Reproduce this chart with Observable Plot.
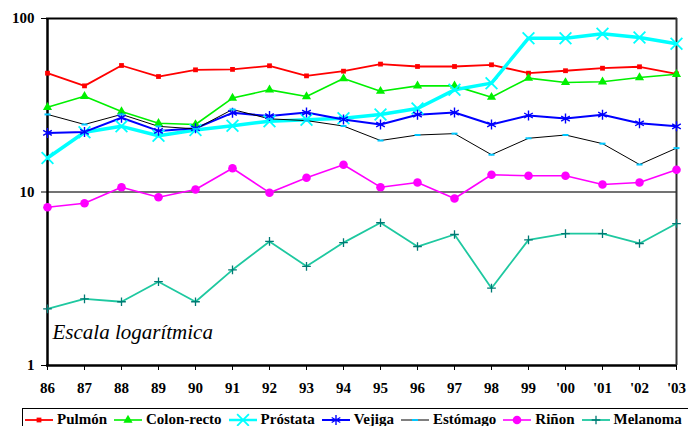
<!DOCTYPE html>
<html>
<head>
<meta charset="utf-8">
<script src="https://cdn.jsdelivr.net/npm/d3@7"></script>
<script src="https://cdn.jsdelivr.net/npm/@observablehq/plot@0.6"></script>
<style>
  html, body { margin: 0; padding: 0; background: #fff; }
  body { width: 688px; height: 426px; position: relative; overflow: hidden; }
  #chart { position: absolute; left: 0; top: 0; }
  #legend {
    position: absolute; left: 22px; top: 408px; width: 680px; height: 30px;
    border: 1.5px solid #000; box-sizing: border-box;
    display: flex; align-items: flex-start; padding: 2px 0 0 2px;
    font-family: 'Liberation Serif', 'Tinos', 'Times New Roman', 'DejaVu Serif', serif; font-weight: bold; font-size: 15px;
    line-height: 17px; white-space: nowrap;
  }
  .item { display: flex; align-items: center; margin-right: 7px; }
  .item svg { margin-right: 4px; }
  #chart svg, #chart svg text { font-family: 'Liberation Serif', 'Tinos', 'Times New Roman', 'DejaVu Serif', serif; }
</style>
</head>
<body>
<div id="chart"></div>
<div id="legend"></div>
<script>
// ---- data ----
const years = ["86","87","88","89","90","91","92","93","94","95","96","97","98","99","'00","'01","'02","'03"];
const seriesNames = ["Pulmón","Colon-recto","Próstata","Vejiga","Estómago","Riñon","Melanoma"];
const pulmon    = [48.4,40.9,53.6,46.3,50.6,50.9,53.4,46.7,49.7,54.6,52.9,52.9,54.1,48.4,50.0,51.7,52.7,48.0];
const colonRecto= [30.8,35.6,29.1,24.9,24.5,34.8,38.8,35.5,45.1,38.1,40.9,40.9,35.2,45.3,42.8,43.2,45.7,47.7];
const prostata  = [15.7,22.1,23.9,21.1,22.8,24.1,25.6,26.1,26.6,28.0,30.3,38.8,42.4,77.0,77.0,81.6,77.7,71.5];
const vejiga    = [21.9,22.2,26.8,22.5,23.3,28.6,27.4,28.7,26.2,24.5,27.9,28.7,24.5,27.6,26.5,27.9,24.9,23.9];
const estomago  = [28.0,24.5,28.0,23.9,23.1,29.9,26.4,25.8,24.0,19.8,21.3,21.7,16.4,20.4,21.3,19.0,14.4,17.9];
const rinon     = [8.17,8.62,10.66,9.33,10.34,13.7,9.91,12.07,14.35,10.66,11.35,9.17,12.57,12.4,12.4,11.05,11.35,13.43];
const melanoma  = [2.12,2.42,2.33,3.04,2.33,3.56,5.19,3.73,5.11,6.65,4.85,5.69,2.79,5.30,5.76,5.76,5.05,6.58];
const yTicks = [1, 10, 100];
const note = "Escala logarítmica";

const seriesValues = [pulmon, colonRecto, prostata, vejiga, estomago, rinon, melanoma];

// ---- styles ----
const serif = "'Liberation Serif', 'Tinos', 'Times New Roman', 'DejaVu Serif', serif";
const dashSymbol = {draw(ctx) { ctx.moveTo(-3,-1); ctx.lineTo(3,-1); ctx.lineTo(3,1); ctx.lineTo(-3,1); ctx.closePath(); }};
const styles = [
  {line: "#FF0000", lw: 1.8, symbol: "square",   r: 2.7, fill: "#FF0000", stroke: "none", sw: 0},
  {line: "#00F000", lw: 1.6, symbol: "triangle", r: 3.4, fill: "#00F000", stroke: "none", sw: 0},
  {line: "#00FFFF", lw: 3.5, symbol: "times",    r: 5.4, fill: "none", stroke: "#00FFFF", sw: 1.8},
  {line: "#0000FF", lw: 2,   symbol: "asterisk", r: 4.7, fill: "none", stroke: "#0000FF", sw: 1.4},
  {line: "#000000", lw: 1,   symbol: dashSymbol, r: 3,   fill: "#00C8FF", stroke: "none", sw: 0},
  {line: "#FF00FF", lw: 1.6, symbol: "circle",   r: 4.3, fill: "#FF00FF", stroke: "none", sw: 0},
  {line: "#1EC8A0", lw: 1.8, symbol: "plus",     r: 2.9, fill: "none", stroke: "#007A74", sw: 1.3}
];

const rows = seriesNames.map((name, i) => years.map((year, j) => ({name, year, value: seriesValues[i][j]})));

const marks = [
  Plot.ruleY([10], {stroke: "#444", strokeWidth: 1.5}),
  Plot.ruleY([100], {stroke: "#000", strokeWidth: 2}),
  Plot.ruleY([1], {stroke: "#000", strokeWidth: 2.5}),
  Plot.ruleX([years[years.length - 1]], {stroke: "#333", strokeWidth: 2}),
  Plot.ruleX([years[0]], {stroke: "#000", strokeWidth: 2.5}),
  Plot.text([note], {frameAnchor: "bottom-left", dx: 6, dy: -27, textAnchor: "start",
    fontSize: 21, fontStyle: "italic", fontWeight: "normal", fontFamily: serif, fill: "#000"})
];
rows.forEach((data, i) => {
  const s = styles[i];
  marks.push(Plot.line(data, {x: "year", y: "value", stroke: s.line, strokeWidth: s.lw}));
});
rows.forEach((data, i) => {
  const s = styles[i];
  marks.push(Plot.dot(data, {x: "year", y: "value", symbol: s.symbol, r: s.r, fill: s.fill, stroke: s.stroke, strokeWidth: s.sw}));
});

const chart = Plot.plot({
  width: 688,
  height: 400,
  marginTop: 18,
  marginBottom: 35,
  marginLeft: 46,
  marginRight: 11,
  style: {fontFamily: serif, fontSize: "15px", fontWeight: "bold", background: "white", color: "#000"},
  x: {type: "point", domain: years, padding: 0, tickSize: 5, tickPadding: 12, label: null},
  y: {type: "log", domain: [1, 100], ticks: yTicks, tickFormat: d => String(d), tickSize: 5, tickPadding: 7, label: null},
  marks
});
document.getElementById("chart").appendChild(chart);

// ---- legend ----
const legend = d3.select("#legend");
seriesNames.forEach((name, i) => {
  const s = styles[i];
  const item = legend.append("div").attr("class", "item");
  const svg = item.append("svg").attr("width", 28).attr("height", 14);
  svg.append("line").attr("x1", 0).attr("x2", 28).attr("y1", 7).attr("y2", 7)
    .attr("stroke", s.line).attr("stroke-width", Math.min(s.lw, 2.5));
  let sym;
  if (typeof s.symbol === "string") {
    const map = {square: d3.symbolSquare, triangle: d3.symbolTriangle, times: d3.symbolTimes,
      asterisk: d3.symbolAsterisk, circle: d3.symbolCircle, plus: d3.symbolPlus};
    sym = map[s.symbol];
  } else sym = s.symbol;
  svg.append("path").attr("transform", "translate(14,7)")
    .attr("d", d3.symbol(sym, Math.PI * s.r * s.r)())
    .attr("fill", s.fill).attr("stroke", s.stroke).attr("stroke-width", s.sw);
  item.append("span").text(name);
});
</script>
</body>
</html>
